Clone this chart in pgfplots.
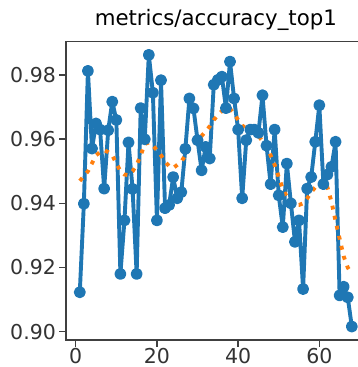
\documentclass[border=0pt]{standalone}
\usepackage{fontspec}
\setmainfont{DejaVu Sans}
\usepackage{pgfplots}
\pgfplotsset{compat=1.18}
\definecolor{mplblue}{HTML}{1F77B4}
\definecolor{mplorange}{HTML}{FF7F0E}
\begin{document}
\begin{tikzpicture}
\begin{axis}[
  at={(0pt,0pt)}, anchor=south west,
  scale only axis, width=299.2pt, height=298.6pt,
  xmin=-2.35, xmax=71.35, ymin=0.8974, ymax=0.9905,
  axis lines=box,
  xtick={0,20,40,60}, xticklabels={0,20,40,60},
  ytick={0.90,0.92,0.94,0.96,0.98}, yticklabels={0.90,0.92,0.94,0.96,0.98},
  tick align=outside, xtick pos=bottom, ytick pos=left, major tick length=6.8pt,
  every tick/.style={black!75, line width=1.5pt},
  axis line style={black!75, line width=1.5pt},
  ticklabel style={font=\fontsize{20.5pt}{24pt}\selectfont, text=black!80},
  xticklabel style={yshift=2.5pt},
  title={metrics/accuracy\_top1},
  title style={font=\fontsize{21.3pt}{25pt}\selectfont, at={(0.5,1)}, anchor=base, yshift=10pt},
]
\addplot[mplblue, line width=3.9pt, line join=round, mark=*, mark size=4pt, mark options={solid}] coordinates {
(1,0.9123)(2,0.9399)(3,0.9813)(4,0.9571)(5,0.9649)(6,0.9630)(7,0.9446)(8,0.9628)(9,0.9717)(10,0.9660)
(11,0.9180)(12,0.9347)(13,0.9590)(14,0.9445)(15,0.9180)(16,0.9697)(17,0.9600)(18,0.9863)(19,0.9745)(20,0.9347)
(21,0.9784)(22,0.9385)(23,0.9395)(24,0.9482)(25,0.9416)(26,0.9435)(27,0.9570)(28,0.9727)(29,0.9696)(30,0.9597)
(31,0.9503)(32,0.9576)(33,0.9540)(34,0.9770)(35,0.9785)(36,0.9795)(37,0.9697)(38,0.9842)(39,0.9727)(40,0.9630)
(41,0.9416)(42,0.9597)(43,0.9630)(44,0.9630)(45,0.9620)(46,0.9737)(47,0.9580)(48,0.9460)(49,0.9630)(50,0.9425)
(51,0.9326)(52,0.9524)(53,0.9400)(54,0.9280)(55,0.9347)(56,0.9133)(57,0.9446)(58,0.9482)(59,0.9592)(60,0.9706)
(61,0.9460)(62,0.9490)(63,0.9514)(64,0.9592)(65,0.9113)(66,0.9140)(67,0.9107)(68,0.9016)
};
\addplot[mplorange, line width=3.9pt, dash pattern=on 3.9pt off 6.4pt] coordinates {
(1,0.9470)(2,0.9485)(3,0.9500)(4,0.9525)(5,0.9550)(6,0.9560)(7,0.9566)(8,0.9560)(9,0.9550)(10,0.9525)
(11,0.9500)(12,0.9490)(13,0.9488)(14,0.9500)(15,0.9520)(16,0.9550)(17,0.9585)(18,0.9590)(19,0.9580)(20,0.9566)
(21,0.9550)(22,0.9530)(23,0.9516)(24,0.9510)(25,0.9520)(26,0.9530)(27,0.9550)(28,0.9570)(29,0.9580)(30,0.9597)
(31,0.9610)(32,0.9625)(33,0.9640)(34,0.9660)(35,0.9675)(36,0.9688)(37,0.9695)(38,0.9695)(39,0.9680)(40,0.9660)
(41,0.9643)(42,0.9633)(43,0.9625)(44,0.9617)(45,0.9610)(46,0.9595)(47,0.9580)(48,0.9550)(49,0.9520)(50,0.9482)
(51,0.9445)(52,0.9420)(53,0.9405)(54,0.9395)(55,0.9395)(56,0.9400)(57,0.9415)(58,0.9435)(59,0.9450)(60,0.9462)
(61,0.9470)(62,0.9450)(63,0.9405)(64,0.9345)(65,0.9290)(66,0.9235)(67,0.9200)(68,0.9180)
};
\draw[black!75, line width=1.5pt] (rel axis cs:0,1) -- (rel axis cs:1,1);
\end{axis}
\pgfresetboundingbox
\useasboundingbox (-66.2pt,-27pt) rectangle (291.8pt,340pt);
\end{tikzpicture}
\end{document}
